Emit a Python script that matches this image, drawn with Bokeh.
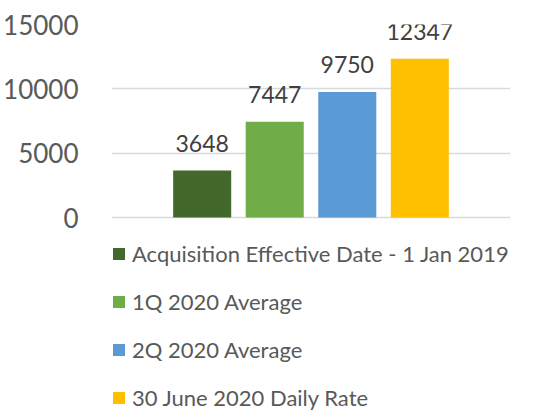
from bokeh.plotting import figure
from bokeh.models import (ColumnDataSource, LabelSet, Range1d, FactorRange, FixedTicker,
                          Legend, LegendItem)
from bokeh.embed import file_html
from bokeh.resources import INLINE
from bokeh.core.properties import value

series = ["Acquisition Effective Date - 1 Jan 2019", "1Q 2020 Average",
          "2Q 2020 Average", "30 June 2020 Daily Rate"]
values = [3648, 7447, 9750, 12347]
colors = ["#43682B", "#70AD47", "#5B9BD5", "#FFC000"]
y_ticks = [0, 5000, 10000, 15000]

src = ColumnDataSource(dict(series=series, value=values, color=colors,
                            label=[str(v) for v in values]))

# layout: value axis occupies the top 193 px of the frame; the rest holds the legend
axis_px = 193
frame_h = 387
y_top = y_ticks[-1]
y_bottom = -y_top * (frame_h - axis_px) / axis_px

p = figure(frame_width=399, frame_height=frame_h,
           x_range=FactorRange(factors=series, range_padding=0.375),
           y_range=Range1d(y_bottom, y_top),
           output_backend="svg", toolbar_location=None, x_axis_location=None,
           min_border_left=106, min_border_right=22, min_border_top=24,
           min_border_bottom=0)
p.outline_line_color = None
p.background_fill_color = "white"
p.border_fill_color = "white"

r = p.vbar(x="series", top="value", width=0.8, fill_color="color", line_color=None,
           source=src)

labels = LabelSet(x="series", y="value", text="label", source=src,
                  text_align="center", text_baseline="alphabetic", y_offset=19,
                  text_font=value("Lato"), text_font_size=value("23px"),
                  text_color="#404040")
p.add_layout(labels)

p.xgrid.visible = False
p.ygrid.grid_line_color = "#D9D9D9"
p.ygrid.grid_line_width = 1.5
p.yaxis.ticker = FixedTicker(ticks=y_ticks)
p.yaxis.axis_line_color = None
p.yaxis.major_tick_line_color = None
p.yaxis.minor_tick_line_color = None
p.yaxis.major_label_text_font = "Lato"
p.yaxis.major_label_text_font_size = "26px"
p.yaxis.major_label_text_color = "#595959"
p.yaxis.major_label_standoff = 27

items = [LegendItem(label=s, renderers=[r], index=i) for i, s in enumerate(series)]
leg = Legend(items=items, orientation="vertical", location=(0, 0),
             background_fill_alpha=0, border_line_color=None, padding=0, margin=0,
             spacing=21, glyph_width=15, glyph_height=15, label_height=27,
             label_standoff=6, label_text_font="Lato", label_text_font_size="22px",
             label_text_color="#595959")
p.add_layout(leg, "center")

open("out.html", "w").write(file_html(p, INLINE))
